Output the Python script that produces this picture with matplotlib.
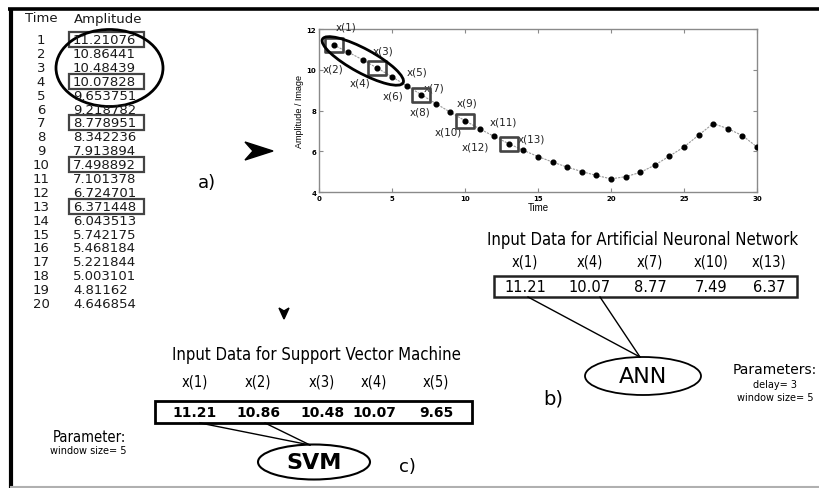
import math
import matplotlib
matplotlib.use("Agg")
import matplotlib.pyplot as plt
from matplotlib.patches import Ellipse, Rectangle, Polygon
from matplotlib.path import Path

# ---- data -------------------------------------------------------------
time_steps = list(range(1, 31))
amplitude = [11.21076, 10.86441, 10.48439, 10.07828, 9.653751, 9.218782,
             8.778951, 8.342236, 7.913894, 7.498892, 7.101378, 6.724701,
             6.371448, 6.043513, 5.742175, 5.468184, 5.221844, 5.003101,
             4.81162, 4.646854, 4.75, 4.96, 5.32, 5.76, 6.21, 6.79,
             7.36, 7.11, 6.77, 6.21]
table_rows = 20
ann_delay = 3
window_size = 5
x_ticks = [0, 5, 10, 15, 20, 25, 30]
y_ticks = [4, 6, 8, 10, 12]

ann_idx = [i * ann_delay for i in range(window_size)]     # 0,3,6,9,12
svm_idx = list(range(window_size))                        # 0..4


def trunc2(v):
    return f"{math.floor(v * 100) / 100:.2f}"


W, H = 819, 489
fig = plt.figure(figsize=(W / 100, H / 100), dpi=100)

# ---- time-series chart --------------------------------------------------
ax_l, ax_r, ax_t, ax_b = 319, 757, 30, 193
ax = fig.add_axes([ax_l / W, 1 - ax_b / H, (ax_r - ax_l) / W, (ax_b - ax_t) / H])
ax.plot(time_steps, amplitude, color="#999999", lw=0.8, ls=(0, (2, 1)), zorder=1)
ax.plot(time_steps, amplitude, ls="none", marker="o", ms=3.4, color="black", zorder=3)

rect_marker = Path([(-1.3, -1), (1.3, -1), (1.3, 1), (-1.3, 1), (-1.3, -1)],
                   [Path.MOVETO, Path.LINETO, Path.LINETO, Path.LINETO, Path.CLOSEPOLY])
ax.plot([time_steps[i] for i in ann_idx], [amplitude[i] for i in ann_idx],
        ls="none", marker=rect_marker, ms=13, mfc="none", mec="#444444", mew=1.9, zorder=4)

label_offsets = [(12, 19), (-15, -16), (20, 9), (-17, -14), (25, 5), (-14, -10),
                 (13, 7), (-16, -8), (17, 10), (-17, -11), (24, 7), (-19, -10), (23, 5)]
for k, (dx, dy) in enumerate(label_offsets):
    ax.annotate(f"x({k + 1})", (time_steps[k], amplitude[k]), xytext=(dx, dy),
                textcoords="offset pixels", ha="center", va="center",
                fontsize=7.5, color="#222222", annotation_clip=False)

ax.set_xlim(0, 30)
ax.set_ylim(4, 12)
ax.set_xticks(x_ticks)
ax.set_yticks(y_ticks)
for s in ax.spines.values():
    s.set_color("#8a8a8a")
    s.set_linewidth(1.0)
ax.tick_params(direction="in", length=3, width=0.8, color="#8a8a8a",
               labelsize=5, top=True, right=True, pad=2)
for lab in ax.get_xticklabels() + ax.get_yticklabels():
    lab.set_fontweight("bold")
ax.set_xlabel("Time", fontsize=7, labelpad=1, family="Liberation Sans")
ax.set_ylabel("Amplitude / Image", fontsize=6.5, labelpad=2, family="Liberation Sans")

# ---- overlay in pixel coordinates -----------------------------------------
ov = fig.add_axes([0, 0, 1, 1])
ov.set_xlim(0, W)
ov.set_ylim(H, 0)
ov.axis("off")
ov.patch.set_alpha(0)

# frame
ov.plot([8, W], [10, 10], color="black", lw=2.6, solid_capstyle="butt")
ov.plot([11, 11], [9, H], color="black", lw=3.0, solid_capstyle="butt")
ov.plot([11, W], [487.5, 487.5], color="#b0b0b0", lw=1.5)

# ellipse around the first window on the chart
to_ov = ov.transData.inverted()
p_first = to_ov.transform(ax.transData.transform((time_steps[0], amplitude[0])))
p_last = to_ov.transform(ax.transData.transform((time_steps[window_size - 1],
                                                 amplitude[window_size - 1])))
cx, cy = (p_first + p_last) / 2
dxp, dyp = p_last - p_first
length = math.hypot(dxp, dyp)
ang = math.degrees(math.atan2(dyp, dxp))
ov.add_patch(Ellipse((cx, cy), length * 1.38, 24, angle=ang, fill=False,
                     ec="black", lw=2.0))

# table
tab_font = dict(fontsize=9.5, color="#1a1a1a")
ov.text(41, 19, "Time", ha="center", va="center", **tab_font)
ov.text(108, 19, "Amplitude", ha="center", va="center", **tab_font)
row_y0, row_dy = 40.5, 13.9
for i in range(table_rows):
    y = row_y0 + i * row_dy
    ov.text(41, y, str(time_steps[i]), ha="center", va="center", **tab_font)
    ov.text(73, y, f"{amplitude[i]:.7g}", ha="left", va="center", **tab_font)
for i in ann_idx:
    y = row_y0 + i * row_dy
    ov.add_patch(Rectangle((69, y - 7.5), 75, 15, fill=False, ec="#444444", lw=1.6))
ov.add_patch(Ellipse((109.5, 69), 107, 77, fill=False, ec="black", lw=2.0))

# arrows and panel labels
ov.add_patch(Polygon([(245, 143), (273, 152), (245, 161), (253, 152)],
                     closed=True, fc="black", ec="black"))
ov.add_patch(Polygon([(279, 309), (284, 320), (289, 309), (284, 312)],
                     closed=True, fc="black", ec="black"))
ov.text(207, 183, "a)", fontsize=13, ha="center", va="center")
ov.text(553, 399, "b)", fontsize=14, ha="center", va="center")
ov.text(407, 467, "c)", fontsize=13, ha="center", va="center")

# ANN block
cond = dict(family="DejaVu Sans", fontstretch="condensed")
ov.text(643, 240, "Input Data for Artificial Neuronal Network", fontsize=12,
        ha="center", va="center", **cond)
ann_x = [525, 590, 650, 711, 769]
for k, i in enumerate(ann_idx):
    ov.text(ann_x[k], 262, f"x({i + 1})", fontsize=10.5, ha="center", va="center", **cond)
    ov.text(ann_x[k], 288, trunc2(amplitude[i]), fontsize=10.5, ha="center", va="center")
ov.add_patch(Rectangle((494, 277), 303, 21, fill=False, ec="#222222", lw=1.8))
ov.plot([528, 640], [298, 358], color="black", lw=1)
ov.plot([600, 640], [298, 358], color="black", lw=1)
ov.add_patch(Ellipse((643, 377), 116, 38, fill=False, ec="black", lw=1.3))
ov.text(643, 377, "ANN", fontsize=16, ha="center", va="center")
ov.text(775, 370, "Parameters:", fontsize=10, ha="center", va="center")
ov.text(775, 385, f"delay= {ann_delay}", fontsize=7, ha="center", va="center")
ov.text(775, 398, f"window size= {window_size}", fontsize=7, ha="center", va="center")

# SVM block
ov.text(316, 355, "Input Data for Support Vector Machine", fontsize=12,
        ha="center", va="center", **cond)
svm_x = [195, 258, 322, 374, 436]
for k, i in enumerate(svm_idx):
    ov.text(svm_x[k], 382, f"x({i + 1})", fontsize=10.5, ha="center", va="center", **cond)
    ov.text(svm_x[k], 413, trunc2(amplitude[i]), fontsize=10, fontweight="bold",
            ha="center", va="center")
ov.add_patch(Rectangle((155, 402), 317, 22, fill=False, ec="black", lw=2.0))
ov.plot([200, 310], [424, 446], color="black", lw=1)
ov.plot([265, 310], [424, 446], color="black", lw=1)
ov.add_patch(Ellipse((314, 463), 112, 35, fill=False, ec="black", lw=1.5))
ov.text(314, 463, "SVM", fontsize=16, fontweight="bold", ha="center", va="center")
ov.text(89, 437, "Parameter:", fontsize=10.5, ha="center", va="center", **cond)
ov.text(88, 451, f"window size= {window_size}", fontsize=7, ha="center", va="center")

fig.savefig("out.png", dpi=100)
